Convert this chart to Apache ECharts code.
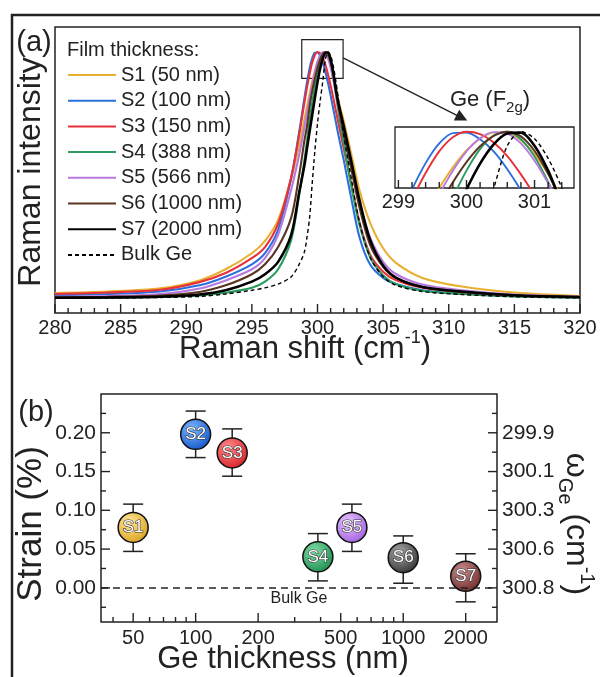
<!DOCTYPE html>
<html>
<head>
<meta charset="utf-8">
<script src="https://cdn.jsdelivr.net/npm/echarts@6/dist/echarts.min.js"></script>
<style>
  html, body { margin: 0; padding: 0; background: #fff; }
  #chart { width: 600px; height: 677px; }
</style>
</head>
<body>
<div id="chart"></div>
<script>
const FONT = '"Liberation Sans", Arial, sans-serif';
const INK = '#222';

// (a) Raman spectra, normalised intensity
const ramanShift = [280, 284, 288, 291, 293, 295, 296, 297, 298, 298.6, 299, 299.2, 299.4, 299.6, 299.8, 300, 300.2, 300.4, 300.6, 300.8, 301, 301.2, 301.4, 301.6, 302, 302.6, 303.2, 304, 305, 306, 308, 311, 315, 320];
const intS1 = [0.024, 0.030, 0.043, 0.075, 0.120, 0.185, 0.235, 0.320, 0.488, 0.623, 0.726, 0.779, 0.831, 0.880, 0.924, 0.960, 0.985, 0.998, 0.998, 0.982, 0.952, 0.910, 0.859, 0.803, 0.720, 0.580, 0.440, 0.310, 0.205, 0.145, 0.085, 0.050, 0.026, 0.012];
const intS2 = [0.015, 0.020, 0.030, 0.055, 0.090, 0.140, 0.185, 0.280, 0.490, 0.674, 0.812, 0.877, 0.933, 0.975, 0.997, 0.998, 0.984, 0.958, 0.920, 0.875, 0.824, 0.770, 0.716, 0.662, 0.562, 0.400, 0.250, 0.140, 0.085, 0.060, 0.035, 0.022, 0.012, 0.006];
const intS3 = [0.020, 0.026, 0.037, 0.068, 0.105, 0.165, 0.210, 0.305, 0.495, 0.665, 0.794, 0.856, 0.912, 0.958, 0.988, 1.000, 0.995, 0.977, 0.948, 0.909, 0.864, 0.814, 0.762, 0.710, 0.609, 0.460, 0.310, 0.180, 0.110, 0.075, 0.045, 0.028, 0.015, 0.008];
const intS4 = [0.004, 0.005, 0.008, 0.014, 0.025, 0.045, 0.070, 0.120, 0.240, 0.420, 0.560, 0.640, 0.725, 0.793, 0.859, 0.917, 0.963, 0.992, 1.000, 0.984, 0.947, 0.893, 0.828, 0.757, 0.630, 0.450, 0.300, 0.170, 0.095, 0.060, 0.033, 0.020, 0.010, 0.005];
const intS5 = [0.009, 0.012, 0.020, 0.042, 0.075, 0.120, 0.165, 0.260, 0.444, 0.583, 0.694, 0.753, 0.812, 0.867, 0.917, 0.958, 0.986, 0.999, 0.996, 0.975, 0.938, 0.890, 0.834, 0.774, 0.680, 0.530, 0.390, 0.250, 0.150, 0.100, 0.058, 0.035, 0.018, 0.009];
const intS6 = [0.007, 0.009, 0.014, 0.028, 0.055, 0.100, 0.140, 0.210, 0.330, 0.500, 0.640, 0.700, 0.780, 0.843, 0.892, 0.935, 0.969, 0.991, 1.000, 0.990, 0.959, 0.910, 0.848, 0.779, 0.670, 0.520, 0.370, 0.220, 0.130, 0.085, 0.048, 0.028, 0.014, 0.007];
const intS7 = [0.005, 0.006, 0.009, 0.018, 0.035, 0.070, 0.100, 0.150, 0.260, 0.430, 0.540, 0.610, 0.679, 0.746, 0.813, 0.877, 0.932, 0.973, 0.996, 0.998, 0.970, 0.917, 0.847, 0.790, 0.700, 0.550, 0.400, 0.240, 0.135, 0.085, 0.048, 0.030, 0.015, 0.008];
const intBulk = [0.003, 0.004, 0.006, 0.010, 0.020, 0.035, 0.045, 0.060, 0.090, 0.140, 0.190, 0.250, 0.330, 0.470, 0.600, 0.710, 0.800, 0.880, 0.970, 1.000, 0.985, 0.943, 0.881, 0.806, 0.660, 0.480, 0.310, 0.170, 0.090, 0.055, 0.030, 0.018, 0.009, 0.004];

const sampleNames = ['S1 (50 nm)', 'S2 (100 nm)', 'S3 (150 nm)', 'S4 (388 nm)', 'S5 (566 nm)', 'S6 (1000 nm)', 'S7 (2000 nm)', 'Bulk Ge'];
const sampleColors = ['#e8b030', '#2a6fdb', '#e8303a', '#2a9a5e', '#b779e0', '#5a3422', '#000000', '#000000'];
const ramanMajor = [280, 285, 290, 295, 300, 305, 310, 315, 320];
const ramanMinor = [281, 282, 283, 284, 286, 287, 288, 289, 291, 292, 293, 294, 296, 297, 298, 299, 301, 302, 303, 304, 306, 307, 308, 309, 311, 312, 313, 314, 316, 317, 318, 319];
const insetLabels = [299, 300, 301];
const insetTicks = [299.2, 299.4, 299.6, 299.8, 300.2, 300.4, 300.6, 300.8, 301.2, 301.4];

// (b) strain vs Ge thickness
const pointLabels = ['S1', 'S2', 'S3', 'S4', 'S5', 'S6', 'S7'];
const thickness = [50, 100, 150, 388, 566, 1000, 2000];
const strain = [0.078, 0.198, 0.174, 0.040, 0.078, 0.039, 0.015];
const strainHi = [0.108, 0.228, 0.205, 0.070, 0.108, 0.067, 0.044];
const strainLo = [0.047, 0.168, 0.144, 0.009, 0.047, 0.006, -0.018];
const pointColors = [['#ffe59a', '#d9a01c'], ['#7ab8ff', '#0f52c8'], ['#ff8a8a', '#d41e24'], ['#7fdca6', '#1a8a4a'], ['#e6c4ff', '#9f5cdc'], ['#a8a8a8', '#2e2e2e'], ['#c98c8c', '#6a2828']];
const strainTicks = [0, 0.05, 0.1, 0.15, 0.2];
const strainMinor = [-0.025, 0.025, 0.075, 0.125, 0.175, 0.225];
const omegaLabels = ['300.8', '300.6', '300.3', '300.1', '299.9'];
const thicknessTicks = [50, 100, 200, 500, 1000, 2000];
const thicknessMinor = [40, 60, 70, 80, 90, 300, 400, 600, 700, 800, 900];
const thicknessMin = 35;
const thicknessMax = 2830;

const spectra = [intS1, intS2, intS3, intS4, intS5, intS6, intS7, intBulk];

const chart = echarts.init(document.getElementById('chart'));

const lineSeries = (vals, i, axis, inset) => ({
  name: sampleNames[i],
  type: 'line',
  xAxisIndex: axis,
  yAxisIndex: axis,
  data: ramanShift.map((x, j) => [x, vals[j]]),
  symbol: 'none',
  smooth: 0.3,
  lineStyle: {
    color: sampleColors[i],
    width: i === 7 ? 1.4 : (i === 6 ? 2.6 : (inset ? 1.9 : 2.1)),
    type: i === 7 ? [4, 3] : 'solid'
  },
  itemStyle: { color: sampleColors[i] }
});

const mainSeries = spectra.map((v, i) => lineSeries(v, i, 0, false));
const insetSeries = spectra.map((v, i) => lineSeries(v, i, 1, true));

// zoom box and arrow in panel (a)
mainSeries[7].markArea = {
  silent: true,
  itemStyle: { color: 'rgba(0,0,0,0)', borderColor: INK, borderWidth: 1.2 },
  data: [[{ coord: [298.8, 0.893] }, { coord: [301.95, 1.05] }]]
};
mainSeries[7].markLine = {
  silent: true,
  symbol: ['none', 'triangle'],
  symbolSize: 12,
  label: { show: false },
  lineStyle: { color: INK, width: 1.3, type: 'solid' },
  data: [[{ coord: [301.95, 0.976] }, { coord: [311.0, 0.733] }]]
};

// inward tick marks drawn on the grid edge, positioned by the axes' own scales
const tickMarks = (xAxisIndex, yAxisIndex, side, points, len) => ({
  type: 'custom',
  xAxisIndex,
  yAxisIndex,
  silent: true,
  zlevel: 1,
  z: 5,
  data: points,
  renderItem: (params, api) => {
    const cs = params.coordSys;
    const p = api.coord([api.value(0), api.value(1)]);
    let shape;
    if (side === 'bottom') {
      const y = cs.y + cs.height;
      shape = { x1: p[0], y1: y, x2: p[0], y2: y - len };
    } else if (side === 'left') {
      shape = { x1: cs.x, y1: p[1], x2: cs.x + len, y2: p[1] };
    } else {
      const x = cs.x + cs.width;
      shape = { x1: x, y1: p[1], x2: x - len, y2: p[1] };
    }
    return { type: 'line', shape, style: { stroke: INK, lineWidth: 1.4 } };
  }
});

const hiddenLine = () => ({ show: false, onZero: false });

option = {
  animation: false,
  backgroundColor: '#fff',
  textStyle: { fontFamily: FONT, color: INK },
  grid: [
    { left: 55, top: 27, width: 525, height: 286, show: true, borderColor: INK, borderWidth: 1.5, outerBoundsMode: 'none' },
    { left: 395, top: 127, width: 179, height: 61, show: true, borderColor: INK, borderWidth: 1.3, outerBoundsMode: 'none' },
    { left: 101, top: 394, width: 396, height: 228, show: true, borderColor: INK, borderWidth: 1.5, outerBoundsMode: 'none' }
  ],
  legend: {
    orient: 'vertical',
    left: 67,
    top: 65,
    padding: 0,
    itemWidth: 48,
    itemHeight: 2,
    itemGap: 5.7,
    data: sampleNames,
    itemStyle: { opacity: 0 },
    textStyle: { fontSize: 20, color: INK, fontFamily: FONT },
    selectedMode: false
  },
  xAxis: [
    {
      gridIndex: 0, type: 'value', min: 280, max: 320, interval: 5,
      axisLine: hiddenLine(), splitLine: { show: false }, axisTick: { show: false },
      axisLabel: { fontSize: 20, color: INK, margin: 5 }
    },
    {
      gridIndex: 1, type: 'value', min: 298.95, max: 301.58,
      axisLine: hiddenLine(), splitLine: { show: false }, axisTick: { show: false },
      axisLabel: { customValues: insetLabels, fontSize: 20, color: INK, margin: 4 }
    },
    {
      gridIndex: 2, type: 'log', logBase: 10, min: thicknessMin, max: thicknessMax, show: false
    },
    {
      gridIndex: 2, type: 'value', position: 'bottom',
      min: Math.log10(thicknessMin), max: Math.log10(thicknessMax),
      axisLine: hiddenLine(), splitLine: { show: false }, axisTick: { show: false },
      axisLabel: {
        customValues: thicknessTicks.map(Math.log10), fontSize: 20, color: INK, margin: 6,
        formatter: v => String(Math.round(Math.pow(10, v)))
      }
    }
  ],
  yAxis: [
    { gridIndex: 0, type: 'value', min: -0.057, max: 1.101, show: false },
    { gridIndex: 1, type: 'value', min: 0.88, max: 1.01, show: false },
    {
      gridIndex: 2, type: 'value', position: 'left', min: -0.044, max: 0.25,
      axisLine: hiddenLine(), splitLine: { show: false }, axisTick: { show: false },
      axisLabel: { customValues: strainTicks, fontSize: 21, color: INK, margin: 5, formatter: v => v.toFixed(2) }
    },
    {
      gridIndex: 2, type: 'value', position: 'right', min: -0.044, max: 0.25,
      axisLine: hiddenLine(), splitLine: { show: false }, axisTick: { show: false },
      axisLabel: {
        customValues: strainTicks, fontSize: 21, color: INK, margin: 5,
        formatter: v => omegaLabels[strainTicks.findIndex(t => Math.abs(t - v) < 1e-9)]
      }
    }
  ],
  series: [
    ...mainSeries,
    ...insetSeries,
    tickMarks(0, 0, 'bottom', ramanMajor.map(v => [v, 0]), 9),
    tickMarks(0, 0, 'bottom', ramanMinor.map(v => [v, 0]), 5),
    tickMarks(1, 1, 'bottom', insetLabels.map(v => [v, 0.95]), 8),
    tickMarks(1, 1, 'bottom', insetTicks.map(v => [v, 0.95]), 6),
    tickMarks(2, 2, 'bottom', thicknessTicks.map(t => [t, 0]), 9),
    tickMarks(2, 2, 'bottom', thicknessMinor.map(t => [t, 0]), 5),
    tickMarks(2, 2, 'left', strainTicks.map(s => [thicknessMin, s]), 9),
    tickMarks(2, 2, 'left', strainMinor.map(s => [thicknessMin, s]), 5),
    tickMarks(2, 2, 'right', strainTicks.map(s => [thicknessMin, s]), 9),
    tickMarks(2, 2, 'right', strainMinor.map(s => [thicknessMin, s]), 5),
    {
      type: 'custom',
      xAxisIndex: 2,
      yAxisIndex: 2,
      z: 2,
      data: thickness.map((t, i) => [t, strainLo[i], strainHi[i]]),
      renderItem: (params, api) => {
        const top = api.coord([api.value(0), api.value(2)]);
        const bot = api.coord([api.value(0), api.value(1)]);
        const w = 10;
        const style = { stroke: INK, lineWidth: 1.5 };
        return {
          type: 'group',
          children: [
            { type: 'line', shape: { x1: top[0], y1: top[1], x2: bot[0], y2: bot[1] }, style },
            { type: 'line', shape: { x1: top[0] - w, y1: top[1], x2: top[0] + w, y2: top[1] }, style },
            { type: 'line', shape: { x1: bot[0] - w, y1: bot[1], x2: bot[0] + w, y2: bot[1] }, style }
          ]
        };
      },
      markLine: {
        silent: true,
        symbol: 'none',
        lineStyle: { color: INK, width: 1.5, type: [7, 5] },
        label: { show: true, position: 'insideMiddleBottom', formatter: 'Bulk Ge', fontSize: 16, color: INK, distance: 3 },
        data: [{ yAxis: 0 }]
      }
    },
    {
      type: 'scatter',
      xAxisIndex: 2,
      yAxisIndex: 2,
      z: 3,
      symbolSize: 30,
      data: thickness.map((t, i) => ({
        value: [t, strain[i]],
        itemStyle: {
          color: {
            type: 'radial', x: 0.38, y: 0.32, r: 0.75,
            colorStops: [{ offset: 0, color: pointColors[i][0] }, { offset: 1, color: pointColors[i][1] }]
          }
        }
      })),
      itemStyle: { borderColor: '#111', borderWidth: 1.5, opacity: 1 },
      label: {
        show: true, position: 'inside', formatter: p => pointLabels[p.dataIndex],
        color: '#fff', fontSize: 17, textBorderColor: '#333', textBorderWidth: 1.2
      }
    }
  ],
  graphic: [
    { type: 'polyline', silent: true, shape: { points: [[12, 680], [12, 15], [600, 15]] }, style: { stroke: INK, lineWidth: 2.5, fill: null } },
    { type: 'text', silent: true, x: 34, y: 43, style: { text: '(a)', fontSize: 29, fontFamily: FONT, fill: INK, textAlign: 'center', textVerticalAlign: 'middle' } },
    { type: 'text', silent: true, x: 36, y: 413, style: { text: '(b)', fontSize: 29, fontFamily: FONT, fill: INK, textAlign: 'center', textVerticalAlign: 'middle' } },
    { type: 'text', silent: true, x: 67, y: 50, style: { text: 'Film thickness:', fontSize: 20, fontFamily: FONT, fill: INK, textAlign: 'left', textVerticalAlign: 'middle' } },
    {
      type: 'text', silent: true, x: 490, y: 100,
      style: {
        text: 'Ge (F{sub|2g})', fontSize: 22, fontFamily: FONT, fill: INK, lineHeight: 30,
        textAlign: 'center', textVerticalAlign: 'middle',
        rich: { sub: { fontSize: 15, fontFamily: FONT, fill: INK, verticalAlign: 'bottom' } }
      }
    },
    { type: 'text', silent: true, x: 31, y: 172, rotation: Math.PI / 2, style: { text: 'Raman intensity', fontSize: 32, fontFamily: FONT, fill: INK, textAlign: 'center', textVerticalAlign: 'middle' } },
    {
      type: 'text', silent: true, x: 305, y: 349,
      style: {
        text: 'Raman shift (cm{sup|-1})', fontSize: 31, fontFamily: FONT, fill: INK, lineHeight: 40,
        textAlign: 'center', textVerticalAlign: 'middle',
        rich: { sup: { fontSize: 18, fontFamily: FONT, fill: INK, verticalAlign: 'top' } }
      }
    },
    { type: 'text', silent: true, x: 31, y: 524, rotation: Math.PI / 2, style: { text: 'Strain (%)', fontSize: 35, fontFamily: FONT, fill: INK, textAlign: 'center', textVerticalAlign: 'middle' } },
    { type: 'text', silent: true, x: 283, y: 659, style: { text: 'Ge thickness (nm)', fontSize: 31, fontFamily: FONT, fill: INK, textAlign: 'center', textVerticalAlign: 'middle' } },
    {
      type: 'text', silent: true, x: 576, y: 524, rotation: -Math.PI / 2,
      style: {
        text: 'ω{sub|Ge} (cm{sup|-1})', fontSize: 32, fontFamily: FONT, fill: INK, lineHeight: 42,
        textAlign: 'center', textVerticalAlign: 'middle',
        rich: {
          sub: { fontSize: 20, fontFamily: FONT, fill: INK, verticalAlign: 'bottom' },
          sup: { fontSize: 20, fontFamily: FONT, fill: INK, verticalAlign: 'top' }
        }
      }
    }
  ]
};

chart.setOption(option);
</script>
</body>
</html>
